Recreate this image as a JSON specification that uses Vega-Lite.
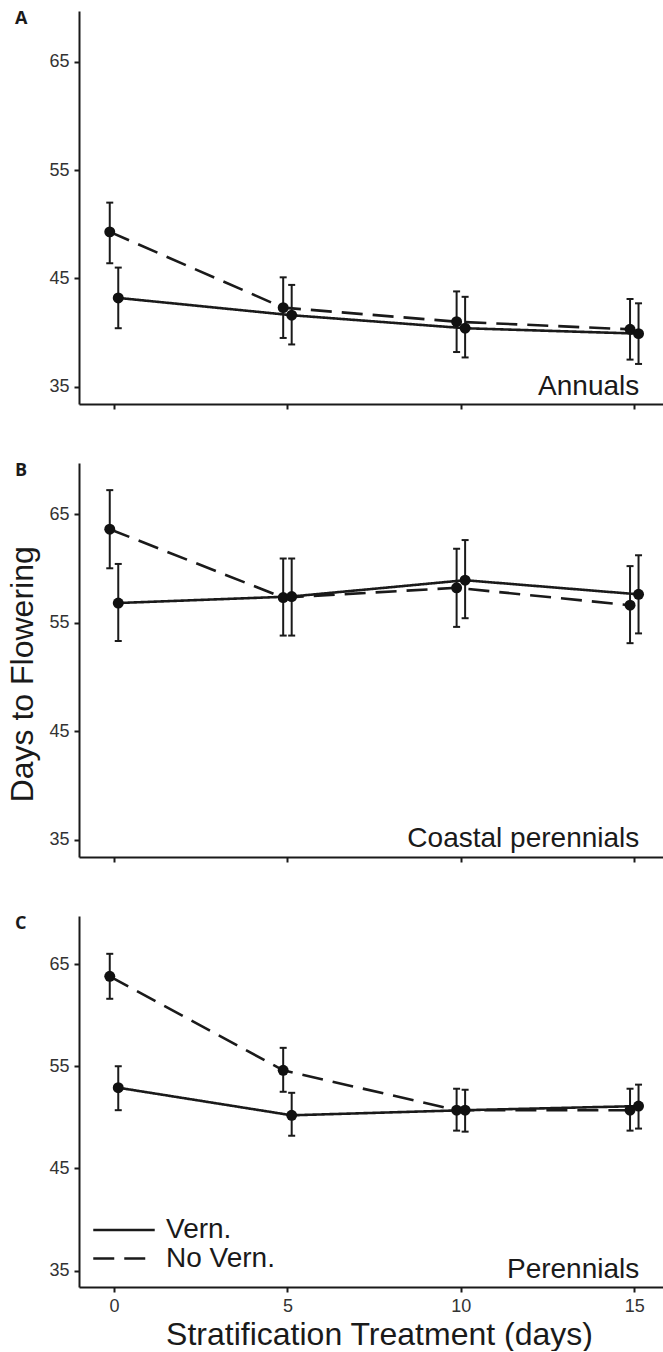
{
  "$schema": "https://vega.github.io/schema/vega-lite/v6.json",
  "background": "white",
  "padding": {"left": 5, "top": 10, "right": 0, "bottom": 0},
  "spacing": 52,
  "data": {"values": [
    {"panel": "A", "step": 0, "group": "No Vern.", "mean": 49.3, "lo": 46.4, "hi": 52.0},
    {"panel": "A", "step": 5, "group": "No Vern.", "mean": 42.3, "lo": 39.5, "hi": 45.1},
    {"panel": "A", "step": 10, "group": "No Vern.", "mean": 41.0, "lo": 38.2, "hi": 43.8},
    {"panel": "A", "step": 15, "group": "No Vern.", "mean": 40.3, "lo": 37.5, "hi": 43.1},
    {"panel": "A", "step": 0, "group": "Vern.", "mean": 43.2, "lo": 40.4, "hi": 46.0},
    {"panel": "A", "step": 5, "group": "Vern.", "mean": 41.6, "lo": 38.9, "hi": 44.4},
    {"panel": "A", "step": 10, "group": "Vern.", "mean": 40.4, "lo": 37.7, "hi": 43.3},
    {"panel": "A", "step": 15, "group": "Vern.", "mean": 39.9, "lo": 37.1, "hi": 42.7},
    {"panel": "B", "step": 0, "group": "No Vern.", "mean": 63.6, "lo": 60.0, "hi": 67.2},
    {"panel": "B", "step": 5, "group": "No Vern.", "mean": 57.3, "lo": 53.8, "hi": 60.9},
    {"panel": "B", "step": 10, "group": "No Vern.", "mean": 58.2, "lo": 54.6, "hi": 61.8},
    {"panel": "B", "step": 15, "group": "No Vern.", "mean": 56.6, "lo": 53.1, "hi": 60.2},
    {"panel": "B", "step": 0, "group": "Vern.", "mean": 56.8, "lo": 53.3, "hi": 60.4},
    {"panel": "B", "step": 5, "group": "Vern.", "mean": 57.4, "lo": 53.8, "hi": 60.9},
    {"panel": "B", "step": 10, "group": "Vern.", "mean": 58.9, "lo": 55.4, "hi": 62.6},
    {"panel": "B", "step": 15, "group": "Vern.", "mean": 57.6, "lo": 54.0, "hi": 61.2},
    {"panel": "C", "step": 0, "group": "No Vern.", "mean": 63.8, "lo": 61.6, "hi": 66.0},
    {"panel": "C", "step": 5, "group": "No Vern.", "mean": 54.6, "lo": 52.5, "hi": 56.8},
    {"panel": "C", "step": 10, "group": "No Vern.", "mean": 50.7, "lo": 48.7, "hi": 52.8},
    {"panel": "C", "step": 15, "group": "No Vern.", "mean": 50.7, "lo": 48.7, "hi": 52.8},
    {"panel": "C", "step": 0, "group": "Vern.", "mean": 52.9, "lo": 50.7, "hi": 55.0},
    {"panel": "C", "step": 5, "group": "Vern.", "mean": 50.2, "lo": 48.2, "hi": 52.4},
    {"panel": "C", "step": 10, "group": "Vern.", "mean": 50.7, "lo": 48.6, "hi": 52.7},
    {"panel": "C", "step": 15, "group": "Vern.", "mean": 51.1, "lo": 48.9, "hi": 53.2}
  ]},
  "vconcat": [
    {
      "width": 586, "height": 393,
      "layer": [
        {
          "transform": [{"filter": "datum.panel === 'A'"}],
          "encoding": {
            "x": {"field": "step", "type": "ordinal", "scale": {"type": "point", "domain": [0, 5, 10, 15], "padding": 0.18945, "align": 0.5327}, "axis": {"labels": false, "title": null, "labelAngle": 0}},
            "xOffset": {"field": "group", "type": "nominal", "scale": {"type": "point", "domain": ["No Vern.", "Vern."], "range": [-4.25, 4.25], "padding": 0}}
          },
          "layer": [
            {"mark": {"type": "line", "strokeWidth": 2.6, "color": "#1a1a1a"},
             "encoding": {"y": {"field": "mean", "type": "quantitative", "scale": {"domain": [33.4, 69.7], "nice": false, "zero": false}, "axis": {"values": [35, 45, 55, 65], "title": null}},
                          "strokeDash": {"field": "group", "type": "nominal", "scale": {"domain": ["Vern.", "No Vern."], "range": [[1, 0], [21, 10]]}, "legend": null}}},
            {"mark": {"type": "rule", "strokeWidth": 2, "color": "#1a1a1a"},
             "encoding": {"y": {"field": "lo", "type": "quantitative", "scale": {"domain": [33.4, 69.7], "nice": false, "zero": false}, "axis": {"values": [35, 45, 55, 65], "title": null}}, "y2": {"field": "hi"}}},
            {"mark": {"type": "point", "shape": "stroke", "size": 49, "strokeWidth": 2, "color": "#1a1a1a", "opacity": 1},
             "encoding": {"y": {"field": "hi", "type": "quantitative", "scale": {"domain": [33.4, 69.7], "nice": false, "zero": false}, "axis": {"values": [35, 45, 55, 65], "title": null}}}},
            {"mark": {"type": "point", "shape": "stroke", "size": 49, "strokeWidth": 2, "color": "#1a1a1a", "opacity": 1},
             "encoding": {"y": {"field": "lo", "type": "quantitative", "scale": {"domain": [33.4, 69.7], "nice": false, "zero": false}, "axis": {"values": [35, 45, 55, 65], "title": null}}}},
            {"mark": {"type": "point", "filled": true, "size": 120, "color": "#111111", "opacity": 1},
             "encoding": {"y": {"field": "mean", "type": "quantitative", "scale": {"domain": [33.4, 69.7], "nice": false, "zero": false}, "axis": {"values": [35, 45, 55, 65], "title": null}}}}
          ]
        },
        {
          "data": {"values": [{"label": "Annuals"}]},
          "mark": {"type": "text", "align": "right", "baseline": "alphabetic", "dx": 5, "font": "Liberation Sans", "fontSize": 28, "color": "#1a1a1a"},
          "encoding": {
            "x": {"datum": 15, "type": "ordinal", "scale": {"type": "point", "domain": [0, 5, 10, 15], "padding": 0.18945, "align": 0.5327}, "axis": {"labels": false, "title": null, "labelAngle": 0}},
            "y": {"datum": 34.2, "type": "quantitative", "scale": {"domain": [33.4, 69.7], "nice": false, "zero": false}, "axis": {"values": [35, 45, 55, 65], "title": null}},
            "text": {"field": "label"}
          }
        },
        {
          "data": {"values": [{"label": "A"}]},
          "mark": {"type": "text", "align": "left", "baseline": "alphabetic", "dx": -99, "dy": 13.3, "font": "Open Sans", "fontWeight": "bold", "fontSize": 18, "color": "#1a1a1a"},
          "encoding": {
            "x": {"datum": 0, "type": "ordinal", "scale": {"type": "point", "domain": [0, 5, 10, 15], "padding": 0.18945, "align": 0.5327}, "axis": {"labels": false, "title": null, "labelAngle": 0}},
            "y": {"datum": 69.7, "type": "quantitative", "scale": {"domain": [33.4, 69.7], "nice": false, "zero": false}, "axis": {"values": [35, 45, 55, 65], "title": null}},
            "text": {"field": "label"}
          }
        }
      ]
    },
    {
      "width": 586, "height": 394,
      "layer": [
        {
          "transform": [{"filter": "datum.panel === 'B'"}],
          "encoding": {
            "x": {"field": "step", "type": "ordinal", "scale": {"type": "point", "domain": [0, 5, 10, 15], "padding": 0.18945, "align": 0.5327}, "axis": {"labels": false, "title": null, "labelAngle": 0}},
            "xOffset": {"field": "group", "type": "nominal", "scale": {"type": "point", "domain": ["No Vern.", "Vern."], "range": [-4.25, 4.25], "padding": 0}}
          },
          "layer": [
            {"mark": {"type": "line", "strokeWidth": 2.6, "color": "#1a1a1a"},
             "encoding": {"y": {"field": "mean", "type": "quantitative", "scale": {"domain": [33.4, 69.7], "nice": false, "zero": false}, "axis": {"values": [35, 45, 55, 65], "title": "Days to Flowering", "titleX": -47, "titleY": 210.8, "titleBaseline": "alphabetic", "titleAlign": "center", "titleAngle": 270}},
                          "strokeDash": {"field": "group", "type": "nominal", "scale": {"domain": ["Vern.", "No Vern."], "range": [[1, 0], [21, 10]]}, "legend": null}}},
            {"mark": {"type": "rule", "strokeWidth": 2, "color": "#1a1a1a"},
             "encoding": {"y": {"field": "lo", "type": "quantitative", "scale": {"domain": [33.4, 69.7], "nice": false, "zero": false}, "axis": {"values": [35, 45, 55, 65], "title": "Days to Flowering", "titleX": -47, "titleY": 210.8, "titleBaseline": "alphabetic", "titleAlign": "center", "titleAngle": 270}}, "y2": {"field": "hi"}}},
            {"mark": {"type": "point", "shape": "stroke", "size": 49, "strokeWidth": 2, "color": "#1a1a1a", "opacity": 1},
             "encoding": {"y": {"field": "hi", "type": "quantitative", "scale": {"domain": [33.4, 69.7], "nice": false, "zero": false}, "axis": {"values": [35, 45, 55, 65], "title": "Days to Flowering", "titleX": -47, "titleY": 210.8, "titleBaseline": "alphabetic", "titleAlign": "center", "titleAngle": 270}}}},
            {"mark": {"type": "point", "shape": "stroke", "size": 49, "strokeWidth": 2, "color": "#1a1a1a", "opacity": 1},
             "encoding": {"y": {"field": "lo", "type": "quantitative", "scale": {"domain": [33.4, 69.7], "nice": false, "zero": false}, "axis": {"values": [35, 45, 55, 65], "title": "Days to Flowering", "titleX": -47, "titleY": 210.8, "titleBaseline": "alphabetic", "titleAlign": "center", "titleAngle": 270}}}},
            {"mark": {"type": "point", "filled": true, "size": 120, "color": "#111111", "opacity": 1},
             "encoding": {"y": {"field": "mean", "type": "quantitative", "scale": {"domain": [33.4, 69.7], "nice": false, "zero": false}, "axis": {"values": [35, 45, 55, 65], "title": "Days to Flowering", "titleX": -47, "titleY": 210.8, "titleBaseline": "alphabetic", "titleAlign": "center", "titleAngle": 270}}}}
          ]
        },
        {
          "data": {"values": [{"label": "Coastal perennials"}]},
          "mark": {"type": "text", "align": "right", "baseline": "alphabetic", "dx": 5, "font": "Liberation Sans", "fontSize": 28, "color": "#1a1a1a"},
          "encoding": {
            "x": {"datum": 15, "type": "ordinal", "scale": {"type": "point", "domain": [0, 5, 10, 15], "padding": 0.18945, "align": 0.5327}, "axis": {"labels": false, "title": null, "labelAngle": 0}},
            "y": {"datum": 34.3, "type": "quantitative", "scale": {"domain": [33.4, 69.7], "nice": false, "zero": false}, "axis": {"values": [35, 45, 55, 65], "title": "Days to Flowering", "titleX": -47, "titleY": 210.8, "titleBaseline": "alphabetic", "titleAlign": "center", "titleAngle": 270}},
            "text": {"field": "label"}
          }
        },
        {
          "data": {"values": [{"label": "B"}]},
          "mark": {"type": "text", "align": "left", "baseline": "alphabetic", "dx": -99, "dy": 13.3, "font": "Open Sans", "fontWeight": "bold", "fontSize": 18, "color": "#1a1a1a"},
          "encoding": {
            "x": {"datum": 0, "type": "ordinal", "scale": {"type": "point", "domain": [0, 5, 10, 15], "padding": 0.18945, "align": 0.5327}, "axis": {"labels": false, "title": null, "labelAngle": 0}},
            "y": {"datum": 69.7, "type": "quantitative", "scale": {"domain": [33.4, 69.7], "nice": false, "zero": false}, "axis": {"values": [35, 45, 55, 65], "title": "Days to Flowering", "titleX": -47, "titleY": 210.8, "titleBaseline": "alphabetic", "titleAlign": "center", "titleAngle": 270}},
            "text": {"field": "label"}
          }
        }
      ]
    },
    {
      "width": 586, "height": 371,
      "layer": [
        {
          "transform": [{"filter": "datum.panel === 'C'"}],
          "encoding": {
            "x": {"field": "step", "type": "ordinal", "scale": {"type": "point", "domain": [0, 5, 10, 15], "padding": 0.18945, "align": 0.5327}, "axis": {"labelAngle": 0, "title": "Stratification Treatment (days)", "titleX": 300, "titleY": 57.5, "titleBaseline": "alphabetic", "titleAlign": "center"}},
            "xOffset": {"field": "group", "type": "nominal", "scale": {"type": "point", "domain": ["No Vern.", "Vern."], "range": [-4.25, 4.25], "padding": 0}}
          },
          "layer": [
            {"mark": {"type": "line", "strokeWidth": 2.6, "color": "#1a1a1a"},
             "encoding": {"y": {"field": "mean", "type": "quantitative", "scale": {"domain": [33.4, 69.7], "nice": false, "zero": false}, "axis": {"values": [35, 45, 55, 65], "title": null}},
                          "strokeDash": {"field": "group", "type": "nominal", "scale": {"domain": ["Vern.", "No Vern."], "range": [[1, 0], [21, 10]]},
                                         "legend": {"orient": "none", "legendX": 31, "legendY": 300, "title": null, "symbolType": "M-3,0H3", "symbolSize": 420, "symbolStrokeWidth": 2.6, "symbolStrokeColor": "#1a1a1a", "symbolFillColor": "transparent", "labelFont": "Liberation Sans", "labelFontSize": 28, "labelColor": "#1a1a1a", "labelOffset": 28, "rowPadding": 0.5, "padding": 0}}}},
            {"mark": {"type": "rule", "strokeWidth": 2, "color": "#1a1a1a"},
             "encoding": {"y": {"field": "lo", "type": "quantitative", "scale": {"domain": [33.4, 69.7], "nice": false, "zero": false}, "axis": {"values": [35, 45, 55, 65], "title": null}}, "y2": {"field": "hi"}}},
            {"mark": {"type": "point", "shape": "stroke", "size": 49, "strokeWidth": 2, "color": "#1a1a1a", "opacity": 1},
             "encoding": {"y": {"field": "hi", "type": "quantitative", "scale": {"domain": [33.4, 69.7], "nice": false, "zero": false}, "axis": {"values": [35, 45, 55, 65], "title": null}}}},
            {"mark": {"type": "point", "shape": "stroke", "size": 49, "strokeWidth": 2, "color": "#1a1a1a", "opacity": 1},
             "encoding": {"y": {"field": "lo", "type": "quantitative", "scale": {"domain": [33.4, 69.7], "nice": false, "zero": false}, "axis": {"values": [35, 45, 55, 65], "title": null}}}},
            {"mark": {"type": "point", "filled": true, "size": 120, "color": "#111111", "opacity": 1},
             "encoding": {"y": {"field": "mean", "type": "quantitative", "scale": {"domain": [33.4, 69.7], "nice": false, "zero": false}, "axis": {"values": [35, 45, 55, 65], "title": null}}}}
          ]
        },
        {
          "data": {"values": [{"label": "Perennials"}]},
          "mark": {"type": "text", "align": "right", "baseline": "alphabetic", "dx": 5, "font": "Liberation Sans", "fontSize": 28, "color": "#1a1a1a"},
          "encoding": {
            "x": {"datum": 15, "type": "ordinal", "scale": {"type": "point", "domain": [0, 5, 10, 15], "padding": 0.18945, "align": 0.5327}, "axis": {"labelAngle": 0, "title": "Stratification Treatment (days)", "titleX": 300, "titleY": 57.5, "titleBaseline": "alphabetic", "titleAlign": "center"}},
            "y": {"datum": 34.3, "type": "quantitative", "scale": {"domain": [33.4, 69.7], "nice": false, "zero": false}, "axis": {"values": [35, 45, 55, 65], "title": null}},
            "text": {"field": "label"}
          }
        },
        {
          "data": {"values": [{"label": "C"}]},
          "mark": {"type": "text", "align": "left", "baseline": "alphabetic", "dx": -99, "dy": 13.3, "font": "Open Sans", "fontWeight": "bold", "fontSize": 18, "color": "#1a1a1a"},
          "encoding": {
            "x": {"datum": 0, "type": "ordinal", "scale": {"type": "point", "domain": [0, 5, 10, 15], "padding": 0.18945, "align": 0.5327}, "axis": {"labelAngle": 0, "title": "Stratification Treatment (days)", "titleX": 300, "titleY": 57.5, "titleBaseline": "alphabetic", "titleAlign": "center"}},
            "y": {"datum": 69.7, "type": "quantitative", "scale": {"domain": [33.4, 69.7], "nice": false, "zero": false}, "axis": {"values": [35, 45, 55, 65], "title": null}},
            "text": {"field": "label"}
          }
        }
      ]
    }
  ],
  "resolve": {"scale": {"strokeDash": "independent"}, "legend": {"strokeDash": "independent"}},
  "config": {
    "view": {"stroke": null},
    "font": "Liberation Sans",
    "axis": {
      "grid": false,
      "domainColor": "#1a1a1a", "domainWidth": 2,
      "tickColor": "#1a1a1a", "tickWidth": 2, "tickSize": 5,
      "labelFont": "Liberation Sans", "labelFontSize": 18, "labelColor": "#333333",
      "titleFont": "Liberation Sans", "titleFontSize": 32, "titleFontWeight": "normal", "titleColor": "#1a1a1a"
    },
    "axisY": {"labelPadding": 5},
    "axisX": {"labelPadding": 5}
  }
}
